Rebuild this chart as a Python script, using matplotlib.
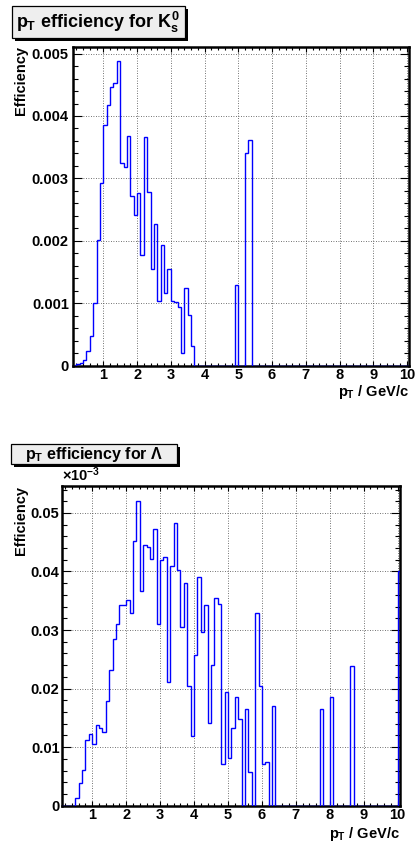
import numpy as np
import matplotlib
matplotlib.use("Agg")
import matplotlib.pyplot as plt
from matplotlib.patches import Rectangle
from matplotlib.ticker import MultipleLocator

plt.rcParams['font.family'] = ['Liberation Sans', 'DejaVu Sans']
plt.rcParams['font.weight'] = 'bold'
plt.rcParams['mathtext.fontset'] = 'custom'
plt.rcParams['mathtext.rm'] = 'Liberation Sans:bold'
plt.rcParams['mathtext.it'] = 'Liberation Sans:bold'
plt.rcParams['mathtext.bf'] = 'Liberation Sans:bold'
plt.rcParams['mathtext.sf'] = 'Liberation Sans:bold'

# pT bins, 0.1 GeV/c wide, starting at 0.1
bin_edges = np.round(np.arange(0.1, 10.15, 0.1), 2)

# K0s efficiency (units of 1e-3)
k0s_eff = np.array([
    0.00, 0.02, 0.04, 0.09, 0.23, 0.48, 1.00, 2.02, 2.93, 3.85,
    4.18, 4.47, 4.53, 4.88, 3.24, 3.19, 3.68, 2.72, 2.42, 2.76,
    1.77, 3.66, 2.78, 1.55, 2.27, 1.04, 1.93, 1.17, 1.55, 1.03,
    1.02, 0.94, 0.21, 1.25, 0.82, 0.32, 0, 0, 0, 0,
    0, 0, 0, 0, 0, 0, 0, 0, 1.29, 0,
    0, 3.40, 3.61, 0, 0, 0, 0, 0, 0, 0,
    0, 0, 0, 0, 0, 0, 0, 0, 0, 0,
    0, 0, 0, 0, 0, 0, 0, 0, 0, 0,
    0, 0, 0, 0, 0, 0, 0, 0, 0, 0,
    0, 0, 0, 0, 0, 0, 0, 0, 0, 0,
]) * 1e-3

# Lambda efficiency (as drawn, axis multiplier x10^-3)
lambda_eff = np.array([
    0, 0, 0, 0, 0.0014, 0.0038, 0.0061, 0.0112, 0.0122, 0.0105,
    0.0138, 0.0132, 0.0126, 0.0178, 0.0231, 0.0284, 0.0310, 0.0342, 0.0343, 0.0351,
    0.0329, 0.0452, 0.0521, 0.0367, 0.0445, 0.0442, 0.0422, 0.0472, 0.0311, 0.0420,
    0.0424, 0.0211, 0.0410, 0.0482, 0.0402, 0.0305, 0.0380, 0.0204, 0.0119, 0.0257,
    0.0391, 0.0296, 0.0342, 0.0141, 0.0241, 0.0354, 0.0344, 0.0072, 0.0194, 0.0082,
    0.0132, 0.0186, 0.0148, 0, 0.0166, 0.0058, 0, 0.0329, 0.0205, 0.0072,
    0.0075, 0, 0.0171, 0, 0, 0, 0, 0, 0, 0,
    0, 0, 0, 0, 0, 0, 0.0165, 0, 0, 0.0186,
    0, 0, 0, 0, 0, 0.0239, 0, 0, 0, 0,
    0, 0, 0, 0, 0, 0, 0, 0, 0, 0.0400,
])

x_ticks = list(range(1, 11))
k0s_yticks = [0, 0.001, 0.002, 0.003, 0.004, 0.005]
k0s_ylabels = ['0', '0.001', '0.002', '0.003', '0.004', '0.005']
lam_yticks = [0, 0.01, 0.02, 0.03, 0.04, 0.05]
lam_ylabels = ['0', '0.01', '0.02', '0.03', '0.04', '0.05']

W, H = 416, 843
fig = plt.figure(figsize=(W / 100, H / 100), dpi=100)


def px_axes(x0, y0, x1, y1):
    return fig.add_axes([x0 / W, 1 - y1 / H, (x1 - x0) / W, (y1 - y0) / H])


def title_box(x0, y0, x1, y1, text, size):
    sh = 3
    fig.add_artist(Rectangle((x0 / W + sh / W, 1 - (y1 + sh) / H), (x1 - x0) / W, (y1 - y0) / H,
                             transform=fig.transFigure, facecolor='black', edgecolor='black', lw=0))
    fig.add_artist(Rectangle((x0 / W, 1 - y1 / H), (x1 - x0) / W, (y1 - y0) / H,
                             transform=fig.transFigure, facecolor='#eeeeee', edgecolor='black', lw=0.9))
    fig.text((x0 + x1) / 2 / W, 1 - (y0 + y1) / 2 / H, text, ha='center', va='center',
             fontsize=size, fontweight='bold')


def style_axes(ax, xlim, ylim, yticks, ylabels, yminor, ypad):
    ax.set_xlim(*xlim)
    ax.set_ylim(*ylim)
    ax.set_xticks(x_ticks)
    ax.set_xticklabels([str(t) for t in x_ticks])
    ax.set_yticks(yticks)
    ax.set_yticklabels(ylabels)
    ax.xaxis.set_minor_locator(MultipleLocator(0.2))
    ax.yaxis.set_minor_locator(MultipleLocator(yminor))
    ax.grid(True, which='major', ls=(0, (1, 2)), color='#444444', lw=0.6)
    ax.tick_params(axis='both', which='both', direction='in', top=True, right=True,
                   width=0.8, labelsize=10.5, colors='black')
    ax.tick_params(axis='x', which='major', length=3.8, pad=2)
    ax.tick_params(axis='x', which='minor', length=2)
    ax.tick_params(axis='y', which='major', length=6.5, pad=ypad)
    ax.tick_params(axis='y', which='minor', length=3.5)
    for lab in ax.get_xticklabels() + ax.get_yticklabels():
        lab.set_fontweight('bold')
    for sp in ax.spines.values():
        sp.set_linewidth(1.8)


# top panel: K0s
ax1 = px_axes(73, 46.7, 409, 365.7)
ax1.stairs(k0s_eff, bin_edges, color='#0000ff', lw=1.0, zorder=3)
style_axes(ax1, (0.1, 10.06), (0, 0.00511), k0s_yticks, k0s_ylabels, 0.0002, 3)

# bottom panel: Lambda
ax2 = px_axes(61.7, 486, 400, 805.7)
ax2.stairs(lambda_eff, bin_edges, color='#0000ff', lw=1.0, zorder=3)
style_axes(ax2, (0.1, 10.07), (0, 0.0546), lam_yticks, lam_ylabels, 0.002, 1.5)

# titles
title_box(12, 6, 185, 38, r'$p_T$ efficiency for $K^0_s$', 13)
title_box(11, 444, 177, 464, r'$p_T$ efficiency for Λ', 11.5)

# axis titles
fig.text(21 / W, 1 - 46 / H, 'Efficiency', rotation=90, ha='center', va='top',
         fontsize=10.5, fontweight='bold')
fig.text(21 / W, 1 - 486 / H, 'Efficiency', rotation=90, ha='center', va='top',
         fontsize=10.5, fontweight='bold')
fig.text(409 / W, 1 - 383 / H, r'$p_T$ / GeV/c', ha='right', va='top',
         fontsize=10.5, fontweight='bold')
fig.text(400 / W, 1 - 825 / H, r'$p_T$ / GeV/c', ha='right', va='top',
         fontsize=10.5, fontweight='bold')

# multiplier for the Lambda axis
fig.text(62 / W, 1 - 484 / H, '×10$^{-3}$', ha='left', va='bottom', fontsize=10.5)

fig.savefig('out.png', dpi=100)
